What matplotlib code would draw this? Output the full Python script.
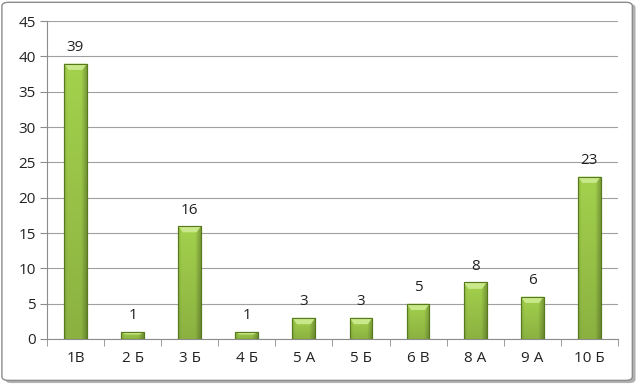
import numpy as np
import matplotlib
matplotlib.use("Agg")
import matplotlib.pyplot as plt
from matplotlib.patches import FancyBboxPatch

categories = ["1В", "2 Б", "3 Б", "4 Б", "5 А", "5 Б", "6 В", "8 А", "9 А", "10 Б"]
values = [39, 1, 16, 1, 3, 3, 5, 8, 6, 23]

plt.rcParams['font.family'] = ['Open Sans', 'DejaVu Sans']

fig = plt.figure(figsize=(6.4, 3.85), dpi=100)

# outer frame with shadow
shadow = FancyBboxPatch((0.008, 0.005), 0.985, 0.985, boxstyle="round,pad=0,rounding_size=0.01",
                        transform=fig.transFigure, facecolor="#b0b0b0", edgecolor="none", zorder=-2)
frame = FancyBboxPatch((0.003, 0.012), 0.985, 0.982, boxstyle="round,pad=0,rounding_size=0.01",
                       transform=fig.transFigure, facecolor="white", edgecolor="#8c8c8c", lw=1, zorder=-1)
fig.patches.extend([shadow, frame])

ax = fig.add_axes([0.0734, 0.1195, 0.892, 0.8255])
ax.set_facecolor("none")
x = np.arange(len(categories))
bars = ax.bar(x, values, width=0.4, color="#9acb45", edgecolor="#4f6f1a", lw=0.8, zorder=3)

# bar shading: light centre, slightly darker right side and bottom
base = np.array([0.64, 0.82, 0.30])
hx = np.linspace(0, 1, 64)
side = 1 - 0.25 * np.clip((hx - 0.75) / 0.25, 0, 1) - 0.12 * np.clip((0.15 - hx) / 0.15, 0, 1)
for b, v in zip(bars, values):
    x0 = b.get_x()
    w = b.get_width()
    vy = np.linspace(1, 0, 64)  # top -> bottom
    shade = side[None, :] * (0.85 + 0.15 * vy[:, None])
    img = np.clip(base[None, None, :] * shade[:, :, None], 0, 1)
    im = ax.imshow(img, extent=[x0, x0 + w, 0, v], aspect="auto", zorder=3.5)
    im.set_clip_path(b)
    # bevel on top
    bh = min(0.9, v * 0.35)
    ax.fill([x0, x0 + w, x0 + w * 0.8, x0 + w * 0.2], [v, v, v - bh, v - bh],
            color="#c8e88a", zorder=3.6, lw=0)
    ax.bar(b.get_x() + w / 2, v, width=w, fill=False, edgecolor="#567a1c", lw=0.8, zorder=3.7)
    ax.text(b.get_x() + w / 2, v + 1.2, str(v), ha="center", va="bottom", fontsize=11, color="#222222", zorder=4)

ax.set_xlim(-0.5, len(categories) - 0.5)
ax.set_ylim(0, 45)
ax.set_yticks(range(0, 46, 5))
ax.yaxis.grid(True, color="#a0a0a0", lw=0.8, zorder=0)
ax.set_axisbelow(True)
ax.set_xticks(x)
ax.set_xticklabels(categories, fontsize=11, color="#222222")
ax.set_xticks(np.arange(-0.5, len(categories), 1), minor=True)
ax.tick_params(axis="x", which="major", length=0, pad=9)
ax.tick_params(axis="x", which="minor", length=5, color="#8c8c8c")
ax.tick_params(axis="y", length=5, color="#8c8c8c", labelsize=11, labelcolor="#222222", pad=3)
for s in ["top", "right"]:
    ax.spines[s].set_visible(False)
for s in ["left", "bottom"]:
    ax.spines[s].set_color("#8c8c8c")

fig.savefig("out.png", dpi=100)
